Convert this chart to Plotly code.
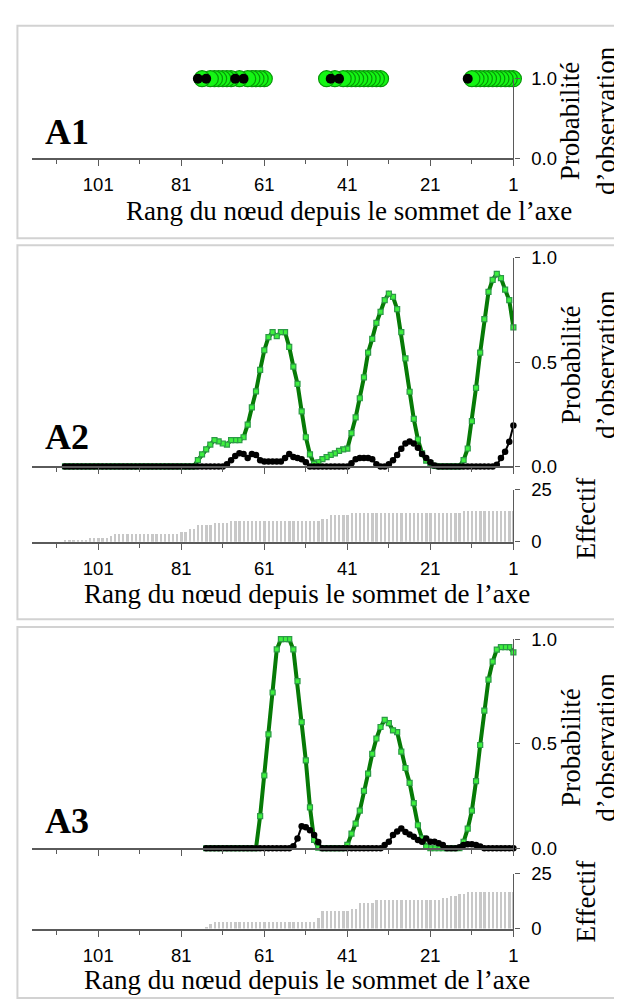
import plotly.graph_objects as go

W, H = 622, 1002

# ---------------- data ----------------
MAJOR_TICKS = [1, 21, 41, 61, 81, 101]
MAJOR_LABELS = ["1", "21", "41", "61", "81", "101"]
MINOR_TICKS = [11, 31, 51, 71, 91, 111]
X_TITLE = "Rang du nœud depuis le sommet de l’axe"
Y_TITLE = "Probabilité<br>d’observation"
BAR_TITLE = "Effectif"
PANEL_LABELS = ["A1", "A2", "A3"]

# A1 : observed sequence (probability 1.0 at each observed rank)
A1_GREEN_RANKS = [1, 2, 3, 4, 5, 6, 7, 8, 9, 10, 11,
                  33, 34, 35, 36, 37, 38, 39, 40, 41, 42, 44, 46,
                  61, 62, 63, 64, 65, 67, 69, 70, 71, 72, 73, 74, 76]
A1_GREEN_VALUES = [1.0, 1.0, 1.0, 1.0, 1.0, 1.0, 1.0, 1.0, 1.0, 1.0, 1.0,
                   1.0, 1.0, 1.0, 1.0, 1.0, 1.0, 1.0, 1.0, 1.0, 1.0, 1.0, 1.0,
                   1.0, 1.0, 1.0, 1.0, 1.0, 1.0, 1.0, 1.0, 1.0, 1.0, 1.0, 1.0, 1.0]
A1_BLACK_RANKS = [12, 43, 45, 66, 68, 75, 77]
A1_BLACK_VALUES = [1.0, 1.0, 1.0, 1.0, 1.0, 1.0, 1.0]

# A2 : ranks 1..109
A2_GREEN = [0.667, 0.797, 0.848, 0.903, 0.923, 0.895, 0.837, 0.706, 0.546, 0.377,
            0.217, 0.086, 0.030, 0, 0, 0, 0, 0, 0, 0.003,
            0.016, 0.028, 0.063, 0.129, 0.228, 0.358, 0.518, 0.644, 0.754, 0.813,
            0.829, 0.797, 0.741, 0.688, 0.612, 0.546, 0.427, 0.327, 0.235, 0.160,
            0.085, 0.082, 0.075, 0.063, 0.055, 0.045, 0.035, 0.020, 0.012, 0.058,
            0.140, 0.264, 0.396, 0.479, 0.573, 0.644, 0.644, 0.625, 0.644, 0.620,
            0.557, 0.463, 0.360, 0.283, 0.200, 0.140, 0.126, 0.126, 0.126, 0.105,
            0.110, 0.120, 0.126, 0.105, 0.082, 0.058, 0.030, 0, 0, 0,
            0, 0, 0, 0, 0, 0, 0, 0, 0, 0,
            0, 0, 0, 0, 0, 0, 0, 0, 0, 0,
            0, 0, 0, 0, 0, 0, 0, 0, 0]
A2_BLACK = [0.196, 0.118, 0.070, 0.040, 0.008, 0, 0, 0, 0, 0,
            0, 0, 0, 0, 0, 0, 0, 0, 0, 0.005,
            0.020, 0.040, 0.060, 0.090, 0.110, 0.120, 0.110, 0.085, 0.055, 0.030,
            0.010, 0, 0, 0.010, 0.035, 0.040, 0.040, 0.040, 0.035, 0.015,
            0, 0, 0, 0, 0, 0, 0, 0, 0, 0,
            0.020, 0.035, 0.040, 0.045, 0.060, 0.040, 0.024, 0.024, 0.024, 0.024,
            0.024, 0.030, 0.055, 0.060, 0.040, 0.060, 0.063, 0.050, 0.030, 0.010,
            0, 0, 0, 0, 0, 0, 0, 0, 0, 0,
            0, 0, 0, 0, 0, 0, 0, 0, 0, 0,
            0, 0, 0, 0, 0, 0, 0, 0, 0, 0,
            0, 0, 0, 0, 0, 0, 0, 0, 0]
A2_EFFECTIF = [15, 15, 15, 15, 15, 15, 15, 15, 15, 15,
               15, 15, 15, 14, 14, 14, 14, 14, 14, 14,
               14, 14, 14, 14, 14, 14, 14, 14, 14, 14,
               14, 14, 14, 14, 14, 14, 14, 14, 14, 14,
               13, 13, 13, 13, 13, 11, 11, 10, 10, 10,
               10, 10, 10, 10, 10, 10, 10, 10, 10, 10,
               10, 10, 10, 10, 10, 10, 10, 10, 10, 9,
               9, 9, 9, 8, 8, 8, 8, 6, 6, 5,
               5, 4, 4, 4, 4, 4, 4, 4, 4, 4,
               4, 4, 4, 4, 4, 4, 4, 3, 2, 2,
               2, 2, 2, 1, 1, 1, 1, 1, 1]

# A3 : ranks 1..75
A3_GREEN = [0.937, 0.962, 0.962, 0.962, 0.950, 0.893, 0.807, 0.658, 0.494, 0.321,
            0.180, 0.094, 0.031, 0, 0, 0, 0, 0, 0, 0,
            0, 0.008, 0.047, 0.110, 0.216, 0.313, 0.384, 0.462, 0.556, 0.564,
            0.599, 0.614, 0.580, 0.525, 0.451, 0.357, 0.274, 0.180, 0.118, 0.070,
            0.016, 0, 0, 0, 0, 0, 0, 0.003, 0.040, 0.196,
            0.420, 0.603, 0.800, 0.951, 1.0, 1.0, 1.0, 0.951, 0.745, 0.545,
            0.348, 0.154, 0, 0, 0, 0, 0, 0, 0, 0,
            0, 0, 0, 0, 0]
A3_BLACK = [0, 0, 0, 0, 0, 0, 0, 0, 0.008, 0.016,
            0.019, 0.019, 0.016, 0.005, 0, 0, 0, 0.016, 0.024, 0.031,
            0.031, 0.047, 0.031, 0.039, 0.055, 0.066, 0.078, 0.094, 0.080, 0.063,
            0.031, 0.016, 0, 0, 0, 0, 0, 0, 0, 0,
            0, 0, 0, 0, 0, 0, 0, 0.030, 0.063, 0.086,
            0.100, 0.105, 0.047, 0.010, 0, 0, 0, 0, 0, 0,
            0, 0, 0, 0, 0, 0, 0, 0, 0, 0,
            0, 0, 0, 0, 0]
A3_EFFECTIF = [17, 17, 17, 17, 17, 17, 17, 17, 17, 17,
               17, 17, 16, 16, 15, 15, 14, 14, 13, 13,
               13, 13, 13, 13, 13, 13, 13, 13, 13, 13,
               13, 13, 13, 13, 12, 12, 12, 12, 9, 9,
               8, 8, 8, 8, 8, 8, 8, 5, 3, 3,
               3, 3, 3, 3, 3, 3, 3, 3, 3, 3,
               3, 3, 3, 3, 3, 3, 3, 3, 3, 3,
               3, 3, 3, 2, 1]

A2_RANKS = list(range(1, len(A2_GREEN) + 1))
A3_RANKS = list(range(1, len(A3_GREEN) + 1))

# ---------------- styling / layout ----------------
AXIS_COLOR = "#5a5a5a"
SERIF = "Liberation Serif, Times New Roman, serif"
SANS = "Liberation Sans, Arial, sans-serif"
GREEN_LINE = "#067a06"
GREEN_FILL = "#3ef03e"
GREEN_EDGE = "#2c9a46"

X_DOM = [24 / W, 509.5 / W]
X_RANGE = [117, 1]


def py(p):
    return 1 - p / H


# panels: (top px, bottom px, y range, tickvals, ticktext, show x labels)
PANELS = [
    (61, 142, [0, 1], [0, 1], ["0.0", "1.0"], True),
    (244, 457, [0, 1], [0, 0.5, 1], ["0.0", "0.5", "1.0"], False),
    (481, 534, [0, 25], [0, 25], ["0", "25"], True),
    (633.5, 847, [0, 1], [0, 0.5, 1], ["0.0", "0.5", "1.0"], False),
    (873, 929, [0, 25], [0, 25], ["0", "25"], True),
]

fig = go.Figure()


def ax(i):
    return "" if i == 1 else str(i)


# A1
fig.add_trace(go.Scatter(x=A1_GREEN_RANKS, y=A1_GREEN_VALUES, mode="markers",
                         marker=dict(size=16, color="#14f514", line=dict(color="#079507", width=1.2)),
                         cliponaxis=False, xaxis="x", yaxis="y"))
fig.add_trace(go.Scatter(x=A1_BLACK_RANKS, y=A1_BLACK_VALUES, mode="markers",
                         marker=dict(size=10, color="black"),
                         cliponaxis=False, xaxis="x", yaxis="y"))


def prob_traces(ranks, green, black, i):
    fig.add_trace(go.Scatter(x=ranks, y=green, mode="lines+markers",
                             line=dict(color=GREEN_LINE, width=4),
                             marker=dict(symbol="square", size=5, color=GREEN_FILL,
                                         line=dict(color=GREEN_EDGE, width=1.2)),
                             cliponaxis=False, xaxis="x" + ax(i), yaxis="y" + ax(i)))
    fig.add_trace(go.Scatter(x=ranks, y=black, mode="lines+markers",
                             line=dict(color="black", width=2),
                             marker=dict(size=6.5, color="black"),
                             cliponaxis=False, xaxis="x" + ax(i), yaxis="y" + ax(i)))


def bar_trace(ranks, eff, i):
    fig.add_trace(go.Bar(x=ranks, y=eff, width=0.55, marker=dict(color="#c8c8c8", line=dict(width=0)),
                         xaxis="x" + ax(i), yaxis="y" + ax(i)))


prob_traces(A2_RANKS, A2_GREEN, A2_BLACK, 2)
bar_trace(A2_RANKS, A2_EFFECTIF, 3)
prob_traces(A3_RANKS, A3_GREEN, A3_BLACK, 4)
bar_trace(A3_RANKS, A3_EFFECTIF, 5)

layout = dict(width=W, height=H, margin=dict(l=0, r=0, t=0, b=0, pad=0),
              paper_bgcolor="white", plot_bgcolor="rgba(0,0,0,0)",
              showlegend=False, bargap=0)

tick_font = dict(family=SANS, size=18.5, color="black")
for i, (top, bot, yr, tv, tt, labels) in enumerate(PANELS, start=1):
    s = ax(i)
    layout["xaxis" + s] = dict(
        domain=X_DOM, range=X_RANGE, anchor="y" + s,
        showline=True, linecolor=AXIS_COLOR, linewidth=2,
        tickmode="array", tickvals=MAJOR_TICKS, ticktext=MAJOR_LABELS,
        ticks="outside", ticklen=6, tickwidth=1.3, tickcolor=AXIS_COLOR,
        showticklabels=labels, tickfont=tick_font, ticklabelstandoff=3,
        minor=dict(tickmode="array", tickvals=MINOR_TICKS, ticks="outside",
                   ticklen=4, tickwidth=1.2, tickcolor=AXIS_COLOR, showgrid=False),
        showgrid=False, zeroline=False, fixedrange=True)
    layout["yaxis" + s] = dict(
        domain=[py(bot), py(top)], range=yr, anchor="x" + s, side="right",
        showline=True, linecolor=AXIS_COLOR, linewidth=1.3,
        tickmode="array", tickvals=tv, ticktext=tt,
        ticks="outside", ticklen=5, tickwidth=1.3, tickcolor=AXIS_COLOR,
        tickfont=tick_font, ticklabelstandoff=8,
        showgrid=False, zeroline=False, fixedrange=True)
    # overlay axis providing the upper half of the crossing major ticks
    layout["xaxis" + str(i + 5)] = dict(
        overlaying="x" + s, anchor="y" + s, range=X_RANGE,
        tickmode="array", tickvals=MAJOR_TICKS, ticks="inside", ticklen=6,
        tickwidth=1.3, tickcolor=AXIS_COLOR, showticklabels=False,
        showline=False, showgrid=False, zeroline=False, fixedrange=True)

# frames around the three figures
BOXES = [(7, 224), (231, 613), (621, 1000)]
shapes = []
for top, bot in BOXES:
    shapes.append(dict(type="rect", xref="paper", yref="paper",
                       x0=9.5 / W, x1=617 / W, y0=py(bot), y1=py(top),
                       line=dict(color="#d2d2d2", width=2), fillcolor="rgba(0,0,0,0)",
                       layer="below"))
layout["shapes"] = shapes

ann = []
label_y = [115, 426.5, 819]
for lab, yy in zip(PANEL_LABELS, label_y):
    ann.append(dict(text="<b>" + lab + "</b>", x=35 / W, y=py(yy), xref="paper", yref="paper",
                    xanchor="left", yanchor="middle", showarrow=False,
                    font=dict(family=SERIF, size=36, color="black")))
for xx, yy in [(344, 196), (301, 587), (301, 982)]:
    ann.append(dict(text=X_TITLE, x=xx / W, y=py(yy), xref="paper", yref="paper",
                    xanchor="center", yanchor="middle", showarrow=False,
                    font=dict(family=SERIF, size=27, color="black")))
for yy in [104, 353, 744]:
    ann.append(dict(text=Y_TITLE, x=585 / W, y=py(yy), xref="paper", yref="paper",
                    xanchor="center", yanchor="middle", showarrow=False, textangle=-90,
                    font=dict(family=SERIF, size=27, color="black")))
for yy in [510, 901]:
    ann.append(dict(text=BAR_TITLE, x=583 / W, y=py(yy), xref="paper", yref="paper",
                    xanchor="center", yanchor="middle", showarrow=False, textangle=-90,
                    font=dict(family=SERIF, size=27, color="black")))
layout["annotations"] = ann

fig.update_layout(**layout)
fig.write_html("out.html", config={"displayModeBar": False})
